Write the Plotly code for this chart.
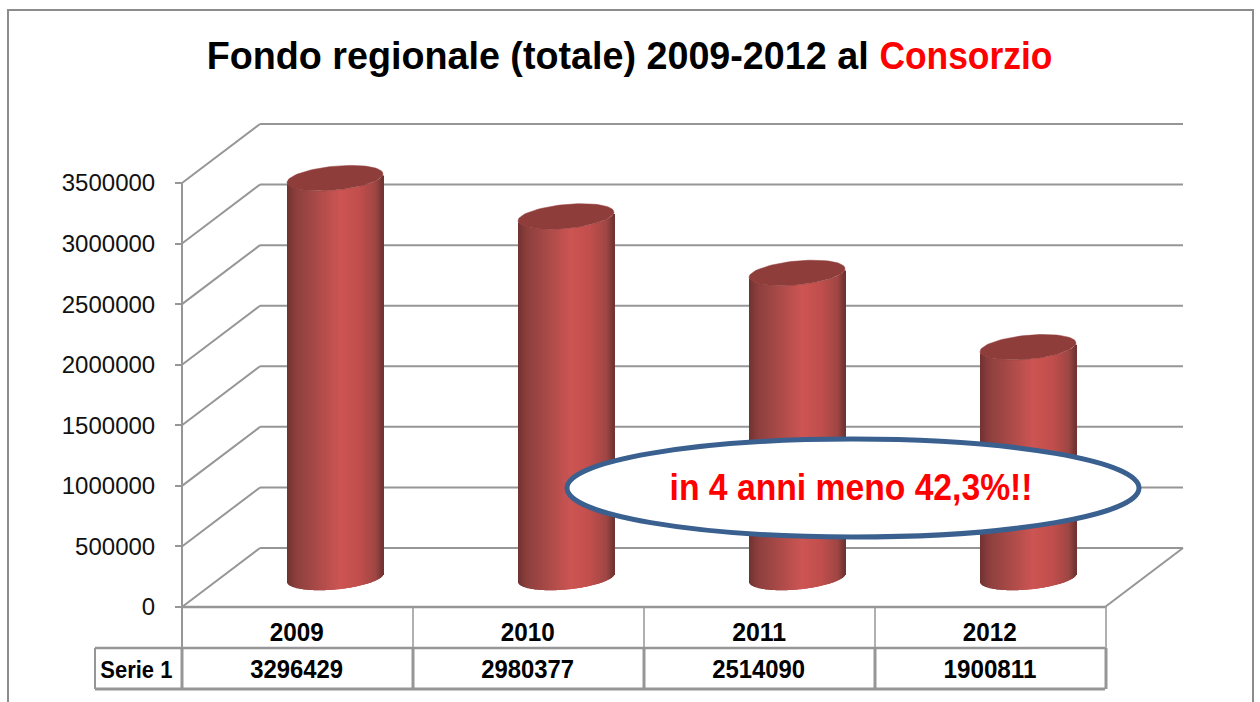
import json
import numpy as np
import plotly.graph_objects as go

# ---- data ----
years = [2009, 2010, 2011, 2012]
values = [3296429, 2980377, 2514090, 1900811]
tick_values = [0, 500000, 1000000, 1500000, 2000000, 2500000, 3000000, 3500000]
series_name = "Serie 1"
callout = "in 4 anni meno 42,3%!!"
title_a = "Fondo regionale (totale) 2009-2012 al"
title_b = "Consorzio"

# ---- layout constants (pixels of the 1260x702 canvas) ----
W, H = 1260, 702
UNITS_PER_PX = 3500000 / 424
PX_PER_YEAR = 231
Y_ZERO_PX = 607
BAR_X_PX = 335          # centre of first cylinder
FRONT_X_PX = 296.5      # centre of first table column
BASE_PX = 577.5         # centre of the cylinder foot
A, B, SHEAR = 48, 12, 0.09
GREY = "#969696"

def xd(px):
    return years[0] + (px - BAR_X_PX) / PX_PER_YEAR

def yd(px):
    return (Y_ZERO_PX - px) * UNITS_PER_PX

base = yd(BASE_PX)
stops = [(0, (0x70, 0x33, 0x31)), (.1, (0x8e, 0x40, 0x3e)), (.3, (0xa8, 0x4a, 0x48)),
         (.55, (0xcd, 0x55, 0x53)), (.75, (0xc2, 0x4f, 0x4d)), (.92, (0xa0, 0x47, 0x44)),
         (1, (0x6e, 0x33, 0x31))]

def col(t):
    c = [np.interp(t, [s[0] for s in stops], [s[1][i] for s in stops]) for i in range(3)]
    return "rgb(%d,%d,%d)" % tuple(c)

fig = go.Figure()

# gradient body of each cylinder: narrow bars side by side, following the curved foot
step = 1
for dx in np.arange(-A, A, step):
    mid = dx + step / 2
    foot = (SHEAR * mid - B * np.sqrt(max(0, 1 - (mid / A) ** 2))) * UNITS_PER_PX
    fig.add_trace(go.Bar(
        x=years, y=values, base=[base + foot] * len(years),
        width=(step + 1) / PX_PER_YEAR, offset=dx / PX_PER_YEAR,
        marker=dict(color=col((mid + A) / (2 * A)), line=dict(width=0)),
        showlegend=False, hoverinfo="skip"))

# cylinder tops
t = np.linspace(0, 2 * np.pi, 90)
for yr, v in zip(years, values):
    ex = A * np.cos(t)
    fig.add_trace(go.Scatter(
        x=yr + ex / PX_PER_YEAR,
        y=base + v + (SHEAR * ex + B * np.sin(t)) * UNITS_PER_PX,
        mode="lines", fill="toself", fillcolor="#8f3d3a",
        line=dict(width=0.5, color="#8f3d3a"), showlegend=False, hoverinfo="skip"))

# 3D walls and gridlines
shapes = []
DEPTH_X, DEPTH_Y = 78, 59
LEFT, RIGHT = 182, 1105

def seg(x0, y0, x1, y1, w=2, color=GREY, layer="below"):
    shapes.append(dict(type="line", xref="x", yref="y", x0=xd(x0), x1=xd(x1), y0=y0, y1=y1,
                       line=dict(color=color, width=w), layer=layer))

dy = DEPTH_Y * UNITS_PER_PX
for v in tick_values:
    seg(LEFT, v, LEFT + DEPTH_X, v + dy)
    seg(LEFT + DEPTH_X, v + dy, RIGHT + DEPTH_X, v + dy)
seg(RIGHT, 0, RIGHT + DEPTH_X, dy)
seg(LEFT, 0, RIGHT, 0, 2.5)
seg(LEFT, yd(690), LEFT, tick_values[-1], 2)

# data table grid
cols_px = [182 + PX_PER_YEAR * i for i in range(len(years) + 1)]
for i, c in enumerate(cols_px):
    seg(c, yd(606), c, yd(648), 1.5)
    seg(c, yd(648), c, yd(689), 3)
seg(95, yd(648), RIGHT, yd(648), 2.5)
seg(95, yd(689), RIGHT, yd(689), 3)
seg(95, yd(648), 95, yd(689), 2)

# outer frame
shapes.append(dict(type="rect", xref="paper", yref="paper",
                   x0=8 / W, x1=1253 / W, y0=-0.05, y1=1 - 10 / H,
                   line=dict(color="#8c8c8c", width=2), fillcolor="rgba(0,0,0,0)", layer="below"))
# callout ellipse
shapes.append(dict(type="circle", xref="paper", yref="paper",
                   x0=567 / W, x1=1139 / W, y0=1 - 537 / H, y1=1 - 439 / H,
                   line=dict(color="#3a6090", width=5), fillcolor="white", layer="above"))

ann = []
fit = {}

def text(px, py, s, size, width, color="black"):
    fit[s] = width
    ann.append(dict(x=px / W, y=1 - py / H, xref="paper", yref="paper",
                    text="<b>%s</b>" % s, showarrow=False,
                    xanchor="center", yanchor="middle",
                    font=dict(family="Liberation Sans", size=size, color=color)))

text(537, 56, title_a, 38, 662)
text(965.5, 56, title_b, 38, 173, "#ff0000")
text(851, 487, callout, 36, 363, "#ff0000")
text(136, 669, series_name, 24, 72)
for i, (yr, v) in enumerate(zip(years, values)):
    text(FRONT_X_PX + i * PX_PER_YEAR, 632, str(yr), 25, 54)
    text(FRONT_X_PX + i * PX_PER_YEAR, 669, str(v), 25, 93)

fig.update_layout(
    width=W, height=H, margin=dict(l=0, r=0, t=0, b=0),
    paper_bgcolor="white", plot_bgcolor="white",
    barmode="overlay", showlegend=False, shapes=shapes, annotations=ann,
    xaxis=dict(range=[xd(0), xd(W)], visible=False, fixedrange=True),
    yaxis=dict(range=[yd(H), yd(0)], anchor="free", position=182 / W,
               tickmode="array", tickvals=tick_values, ticktext=[str(v) for v in tick_values],
               ticks="outside", ticklen=7, tickwidth=2, tickcolor=GREY,
               ticklabelstandoff=15, showgrid=False, zeroline=False, showline=False,
               tickfont=dict(family="Liberation Sans", size=24, color="#111111"), fixedrange=True),
)
post = """
document.body.style.margin='0';document.body.style.overflow='hidden';
var fit=%s;
document.querySelectorAll('g.annotation text').forEach(function(t){
  var w=fit[t.textContent];
  if(w){t.setAttribute('textLength',w);t.setAttribute('lengthAdjust','spacingAndGlyphs');}
});
""" % json.dumps(fit)
fig.write_html("out.html", config={"displayModeBar": False}, post_script=post)
